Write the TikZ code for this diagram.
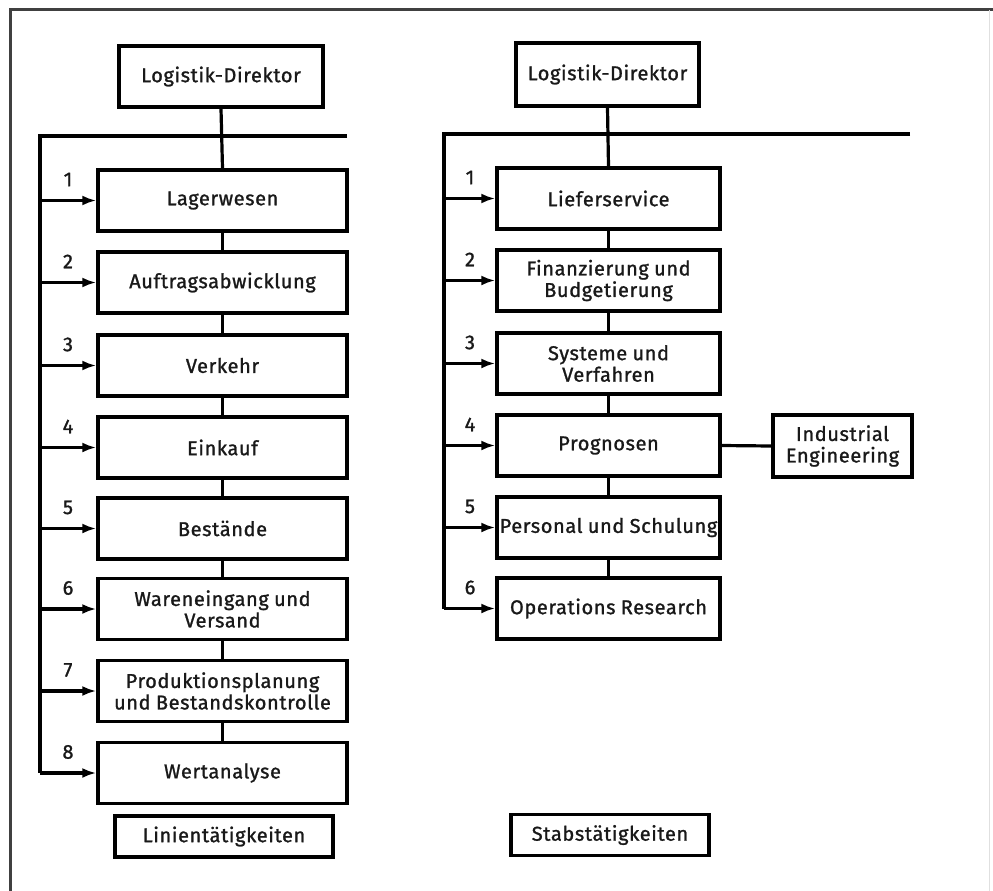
\documentclass[tikz,border=0pt]{standalone}
\usepackage{fontspec}
\setmainfont{Fira Sans}[FakeBold=1.2, LetterSpace=3, WordSpace=0.9]
\usetikzlibrary{arrows.meta}
\begin{document}
\begin{tikzpicture}[x=1pt,y=-1pt,
  every node/.style={font=\fontsize{20}{21.5}\selectfont, text=black!90},
  box/.style={draw, line width=3.4pt, align=center, inner sep=0pt, minimum height=61pt},
  wbox/.style={box, minimum width=249pt},
  rbox/.style={box, minimum width=223pt},
  tag/.style={box, minimum height=41pt},
  wire/.style={line width=3.2pt},
  feedarrow/.style={line width=3.2pt, -{Latex[length=14pt,width=10pt]}},
  num/.style={inner sep=0pt}]
\useasboundingbox (0,0) rectangle (993,891);
\fill[white] (0,0) rectangle (993,891);
% page frame
\draw[line width=3pt, black!75] (993,10) -- (10,10) -- (10,891);
\draw[line width=1pt, black!12] (989,10) -- (989,891);

% ---------- line functions ----------
\node[box, minimum width=204pt] (LD) at (221,76.5) {Logistik-Direktor};
\node[wbox] (L1) at (222.5,200.5) {Lagerwesen};
\node[wbox] (L2) at (222.5,282.5) {Auftragsabwicklung};
\node[wbox] (L3) at (222.5,365.5) {Verkehr};
\node[wbox] (L4) at (222.5,447.5) {Einkauf};
\node[wbox] (L5) at (222.5,528.5) {Bestände};
\node[wbox] (L6) at (222.5,609) {Wareneingang und\\Versand};
\node[wbox] (L7) at (222.5,691) {Produktionsplanung\\und Bestandskontrolle};
\node[wbox] (L8) at (222.5,773) {Wertanalyse};
\node[tag, minimum width=218pt] (LT) at (224,836.5) {Linientätigkeiten};

\coordinate (lbusL) at (40,136);
\coordinate (lbusR) at (347,136);
\coordinate (lnum) at (68,0);
\draw[wire] (lbusR) -- (lbusL) -- (lbusL |- L8.west);
\draw[wire] (LD.south) -- (L1.north);
\foreach \a/\b in {1/2,2/3,3/4,4/5,5/6,6/7,7/8}
  \draw[wire] (L\a.south) -- (L\b.north);
\foreach \i in {1,...,8} {
  \draw[feedarrow] (lbusL |- L\i.west) -- (L\i.west);
  \node[num, yshift=21pt] (ln\i) at (lnum |- L\i.west) {\i};
}

% ---------- staff functions ----------
\node[box, minimum width=183pt, minimum height=63pt] (RD) at (607.5,74.5) {Logistik-Direktor};
\node[rbox] (R1) at (608.5,198.5) {Lieferservice};
\node[rbox] (R2) at (608.5,280.5) {Finanzierung und\\Budgetierung};
\node[rbox] (R3) at (608.5,363.5) {Systeme und\\Verfahren};
\node[rbox] (R4) at (608.5,445.5) {Prognosen};
\node[rbox] (R5) at (608.5,527.5) {Personal und Schulung};
\node[rbox] (R6) at (608.5,608.5) {Operations Research};
\node[box, minimum width=139pt, minimum height=62pt] (IE) at (842.5,446) {Industrial\\Engineering};
\node[tag, minimum width=198pt] (ST) at (610,835) {Stabstätigkeiten};

\coordinate (rbusL) at (444,134);
\coordinate (rbusR) at (910,134);
\coordinate (rnum) at (470,0);
\draw[wire] (rbusR) -- (rbusL) -- (rbusL |- R6.west);
\draw[wire] (RD.south) -- (R1.north);
\foreach \a/\b in {1/2,2/3,3/4,4/5,5/6}
  \draw[wire] (R\a.south) -- (R\b.north);
\draw[wire] (R4.east) -- (IE.west);
\foreach \i in {1,...,6} {
  \draw[feedarrow] (rbusL |- R\i.west) -- (R\i.west);
  \node[num, yshift=21pt] (rn\i) at (rnum |- R\i.west) {\i};
}
\end{tikzpicture}
\end{document}
